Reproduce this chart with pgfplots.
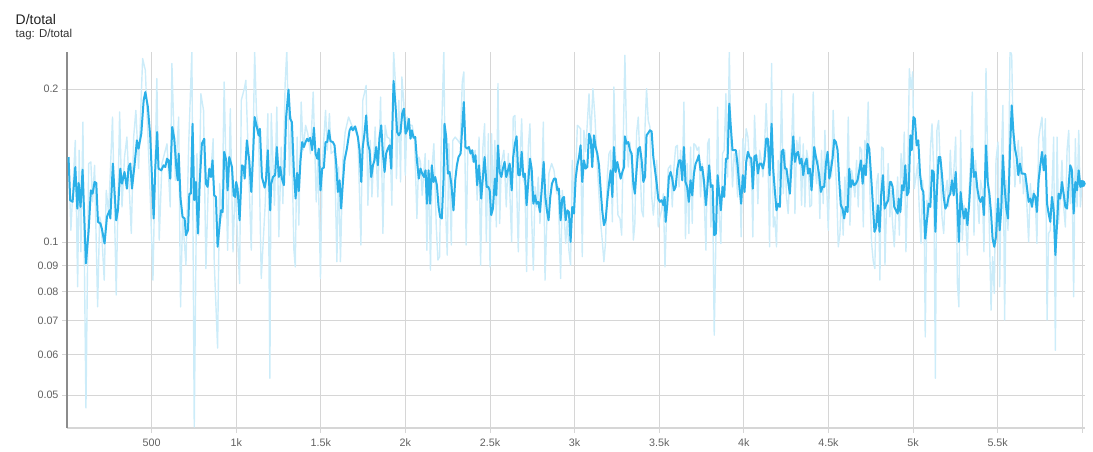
\documentclass[border=0pt]{standalone}
\usepackage{pgfplots}
\pgfplotsset{compat=1.18}
\usepackage{fontspec}
\setmainfont{Liberation Sans}
\definecolor{tbblue}{RGB}{43,176,232}
\definecolor{gridc}{RGB}{214,214,214}
\definecolor{ticklab}{RGB}{97,97,97}
\begin{document}
\begin{tikzpicture}
\useasboundingbox (0,0) rectangle (1093bp,452bp);
\node[anchor=base west, font=\fontsize{14}{16}\selectfont, text=black!87, inner sep=0] at (15.5bp,427bp) {D/total};
\node[anchor=base west, font=\fontsize{11.5}{13}\selectfont, text=black!80, inner sep=0] at (15.5bp,414bp) {tag: D/total};
\begin{axis}[
 at={(67bp,24bp)}, anchor=south west,
 scale only axis, width=1018bp, height=376bp,
 xmin=0, xmax=6016, ymode=log, ymin=0.0431, ymax=0.2365,
 axis x line*=bottom, axis y line*=left,
 x axis line style={draw=gridc, line width=1.5bp},
 y axis line style={draw=black!45, line width=1.5bp},
 xtick={500,1000,1500,2000,2500,3000,3500,4000,4500,5000,5500,6000},
 xticklabels={500,1k,1.5k,2k,2.5k,3k,3.5k,4k,4.5k,5k,5.5k,{}},
 ytick={0.05,0.06,0.07,0.08,0.09,0.1,0.2},
 yticklabels={0.05,0.06,0.07,0.08,0.09,0.1,0.2},
 minor tick num=0,
 grid=major, major grid style={draw=gridc, line width=1bp},
 tick style={draw=gridc, line width=1bp}, tick align=outside, major tick length=5bp,
 ticklabel style={font=\fontsize{10.8}{12}\selectfont, text=ticklab},
 xticklabel style={yshift=-2bp},
 line join=round,
]
\addplot[tbblue!24!white, line width=1.4bp, no marks] coordinates {
(9,0.1470)(23,0.1055)(49,0.1585)(63,0.0817)(72,0.1516)(82,0.0957)(94,0.1722)(112,0.0472)(128,0.1427)(141,0.1438)(151,0.1200)(163,0.1416)(181,0.0746)(193,0.1121)(202,0.1088)(220,0.0842)(232,0.1264)(246,0.1138)(269,0.1762)(291,0.0787)(311,0.1803)(325,0.1173)(340,0.1470)(354,0.1609)(380,0.1040)(394,0.1609)(407,0.1816)(423,0.1395)(447,0.2296)(463,0.2177)(492,0.1227)(508,0.0842)(531,0.2097)(545,0.1009)(561,0.1427)(591,0.1561)(610,0.1173)(620,0.2245)(640,0.1323)(660,0.1762)(671,0.0746)(683,0.1121)(703,0.0901)(719,0.1550)(738,0.2383)(752,0.0433)(768,0.1493)(778,0.1032)(791,0.1958)(807,0.1816)(821,0.0887)(837,0.1364)(851,0.1384)(864,0.1597)(870,0.0915)(890,0.0619)(902,0.1303)(916,0.1121)(929,0.2065)(949,0.0964)(965,0.1830)(981,0.0957)(994,0.1303)(1020,0.0829)(1030,0.1900)(1050,0.2018)(1057,0.2081)(1089,0.0964)(1109,0.2365)(1120,0.1789)(1132,0.1659)(1148,0.0848)(1172,0.1200)(1187,0.1789)
(1199,0.0540)(1207,0.1789)(1226,0.1182)(1240,0.1843)(1252,0.1024)(1266,0.1538)(1276,0.1190)(1289,0.2049)(1299,0.2383)(1315,0.1354)(1325,0.1762)(1341,0.0964)(1349,0.0894)(1360,0.1609)(1370,0.1080)(1384,0.1886)(1396,0.1516)(1410,0.1697)(1423,0.1634)(1439,0.1493)(1455,0.1973)(1473,0.1200)(1483,0.1470)(1498,0.0848)(1508,0.1405)(1528,0.1816)(1538,0.1516)(1551,0.1789)(1561,0.1493)(1581,0.1516)(1595,0.0915)(1605,0.1405)(1616,0.0915)(1630,0.1448)(1644,0.1646)(1664,0.1762)(1683,0.1697)(1699,0.1671)(1719,0.1609)(1737,0.0987)(1748,0.1900)(1768,0.2033)(1778,0.1182)(1792,0.1585)(1802,0.1227)(1821,0.1684)(1837,0.1227)(1853,0.1929)(1867,0.1040)(1880,0.1697)(1892,0.1609)(1908,0.1597)(1920,0.1182)(1930,0.2383)(1940,0.2081)(1947,0.1333)(1961,0.1900)(1971,0.1313)(1979,0.2113)(1991,0.1872)(1999,0.1354)(2010,0.1762)(2024,0.1697)(2040,0.1697)(2054,0.1585)(2068,0.1113)(2079,0.1470)(2089,0.1438)(2099,0.1236)(2117,0.1493)(2127,0.0964)(2137,0.1448)(2148,0.0881)(2158,0.1416)(2168,0.1561)(2182,0.1080)(2192,0.0922)(2202,0.0936)(2211,0.1527)(2227,0.2383)(2237,0.1173)(2247,0.0943)(2257,0.1561)(2271,0.0987)(2280,0.1585)(2294,0.1609)(2310,0.1585)(2324,0.1561)(2336,0.2065)(2345,0.2161)(2359,0.0987)(2369,0.1538)(2385,0.1516)(2399,0.1438)(2412,0.1516)(2424,0.1209)
(2435,0.1609)(2444,0.0901)(2458,0.1538)(2468,0.1709)(2478,0.1001)(2490,0.1634)(2500,0.0894)(2509,0.1634)(2519,0.1173)(2529,0.1585)(2537,0.1071)(2547,0.2049)(2557,0.1088)(2567,0.1427)(2582,0.1516)(2596,0.1173)(2608,0.1493)(2628,0.1001)(2637,0.1762)(2647,0.1775)(2667,0.0957)(2677,0.1448)(2687,0.1748)(2697,0.1323)(2706,0.1303)(2716,0.0875)(2726,0.1538)(2736,0.1709)(2746,0.1121)(2756,0.0881)(2766,0.1284)(2775,0.1173)(2785,0.1343)(2795,0.1088)(2805,0.1264)(2815,0.1722)(2825,0.0842)(2834,0.1055)(2848,0.1364)(2864,0.1427)(2878,0.1384)(2894,0.1245)(2903,0.1284)(2917,0.0848)(2927,0.1264)(2937,0.1146)(2947,0.0994)(2957,0.1104)(2966,0.0964)(2976,0.0901)(2986,0.1448)(2996,0.1173)(3006,0.1343)(3016,0.1697)(3026,0.1684)(3035,0.1671)(3045,0.0936)(3055,0.1659)(3065,0.1505)(3085,0.1958)(3095,0.1597)(3108,0.2003)(3120,0.1762)(3134,0.1405)(3154,0.1088)(3163,0.1009)(3173,0.0915)(3183,0.1001)(3193,0.1343)(3203,0.1493)(3213,0.1516)(3223,0.1096)(3232,0.2018)(3242,0.1470)(3256,0.1130)(3268,0.1113)(3278,0.1032)(3288,0.1634)(3297,0.2331)(3307,0.1609)(3317,0.1405)(3327,0.1573)(3337,0.1427)(3347,0.1009)(3356,0.1088)(3366,0.1634)(3376,0.1762)(3386,0.1448)(3396,0.1155)(3406,0.1121)(3416,0.1684)(3425,0.2003)(3435,0.1735)(3445,0.1684)(3455,0.1236)(3465,0.1130)(3475,0.1236)(3485,0.1448)(3494,0.1071)(3504,0.1121)(3514,0.1155)(3524,0.1245)(3534,0.0894)(3544,0.1155)(3553,0.1395)(3567,0.1416)(3577,0.1173)(3587,0.1405)(3597,0.1538)(3607,0.1550)(3617,0.1284)(3626,0.1516)(3636,0.1323)(3646,0.1886)
(3655,0.1016)(3665,0.1427)(3675,0.1040)(3685,0.1538)(3695,0.1088)(3705,0.1561)(3715,0.1550)(3724,0.1516)(3734,0.1538)(3744,0.1227)(3754,0.1427)(3764,0.1264)(3776,0.0964)(3786,0.1561)(3795,0.1597)(3805,0.1071)(3815,0.1284)(3825,0.0656)(3835,0.1024)(3845,0.1843)(3854,0.1138)(3864,0.0994)(3874,0.1493)(3884,0.1516)(3894,0.1958)(3904,0.1343)(3914,0.2383)(3923,0.1585)(3933,0.1284)(3943,0.1493)(3953,0.1427)(3963,0.1227)(3973,0.1516)(3984,0.1024)(3994,0.1597)(4004,0.1448)(4014,0.1671)(4024,0.1609)(4034,0.1416)(4044,0.1470)(4053,0.1024)(4063,0.1775)(4073,0.1470)(4083,0.1190)(4093,0.1516)(4103,0.1448)(4113,0.1343)(4122,0.1538)(4132,0.1872)(4142,0.1516)(4152,0.0979)(4164,0.2245)(4174,0.1071)(4183,0.1121)(4193,0.0979)(4203,0.1448)(4213,0.1323)(4223,0.1988)(4233,0.1245)(4243,0.1516)(4252,0.1227)(4262,0.1138)(4272,0.1395)(4282,0.1561)(4292,0.1958)(4302,0.1138)(4312,0.1585)(4321,0.1516)(4331,0.1609)(4341,0.1182)(4351,0.1561)(4361,0.1173)(4371,0.1516)(4380,0.1448)(4390,0.1173)(4400,0.1182)(4410,0.1973)(4420,0.1427)(4430,0.1303)(4440,0.1448)(4449,0.1113)(4459,0.1516)(4469,0.1190)(4479,0.1659)(4489,0.1303)(4499,0.1055)(4509,0.1448)(4518,0.1343)(4528,0.1816)(4538,0.1470)(4548,0.1284)(4558,0.0979)(4568,0.1040)(4577,0.1264)(4587,0.1032)(4597,0.1343)(4607,0.1173)(4617,0.1762)(4627,0.1080)(4637,0.1384)(4646,0.1323)(4656,0.1227)(4666,0.1448)(4676,0.1173)(4686,0.1538)(4696,0.1516)(4706,0.1071)(4715,0.1585)(4725,0.1516)(4735,0.1886)(4745,0.1245)(4755,0.0994)(4765,0.0915)(4774,0.0887)(4784,0.1303)(4794,0.1364)(4804,0.0842)(4814,0.1538)(4824,0.1527)(4834,0.0901)(4843,0.1173)(4853,0.1427)(4863,0.1121)
(4870,0.1264)(4879,0.1088)(4889,0.0979)(4899,0.1173)(4909,0.1343)(4919,0.1032)(4929,0.1493)(4939,0.1303)(4948,0.1646)(4958,0.0957)(4968,0.1303)(4978,0.2193)(4988,0.2003)(4998,0.2161)(5007,0.1274)(5017,0.1343)(5027,0.1427)(5037,0.1155)(5047,0.0994)(5057,0.1323)(5067,0.1009)(5072,0.0651)(5082,0.1209)(5092,0.1121)(5102,0.1516)(5112,0.1709)(5122,0.1395)(5132,0.0540)(5141,0.1659)(5151,0.1735)(5161,0.1405)(5171,0.1121)(5181,0.1040)(5191,0.1245)(5201,0.1323)(5210,0.1173)(5220,0.1516)(5230,0.1264)(5240,0.1364)(5252,0.1609)(5262,0.0829)(5271,0.0746)(5281,0.1659)(5291,0.1009)(5301,0.1182)(5311,0.1104)(5321,0.0943)(5331,0.1264)(5340,0.1448)(5350,0.1973)(5360,0.1032)(5370,0.1448)(5380,0.1227)(5390,0.1088)(5399,0.1323)(5409,0.1264)(5419,0.0957)(5431,0.2193)(5441,0.1448)(5451,0.1055)(5461,0.0735)(5470,0.0936)(5480,0.0793)(5490,0.1448)(5502,0.1573)(5512,0.0817)(5522,0.1470)(5531,0.1858)(5541,0.0703)(5551,0.1323)(5561,0.1055)(5573,0.2383)(5583,0.2331)(5593,0.1516)(5602,0.1284)(5612,0.1470)(5622,0.1585)(5632,0.1303)(5642,0.1538)(5652,0.1245)(5663,0.1364)(5673,0.1173)(5683,0.1001)(5693,0.1303)(5703,0.1173)(5713,0.1264)(5723,0.1190)(5732,0.0994)(5742,0.1597)(5752,0.1684)(5762,0.1762)(5772,0.1448)(5782,0.1748)(5792,0.0703)(5801,0.1040)(5811,0.1055)(5821,0.1264)(5831,0.1609)(5841,0.0613)(5851,0.1609)(5860,0.1088)(5870,0.1227)(5880,0.1448)(5890,0.1173)(5900,0.1071)(5910,0.1516)(5920,0.1659)(5929,0.1190)(5939,0.1405)(5949,0.0781)(5959,0.1597)(5969,0.1173)(5979,0.1659)(5989,0.1173)(5998,0.1303)
};
\addplot[tbblue, line width=2bp, no marks] coordinates {
(9,0.1470)(19,0.1209)(33,0.1200)(49,0.1405)(61,0.1164)(69,0.1307)(80,0.1173)(92,0.1388)(112,0.0908)(128,0.1055)(141,0.1264)(151,0.1245)(163,0.1313)(173,0.1307)(183,0.1096)(197,0.1088)(206,0.1063)(222,0.0994)(236,0.1121)(252,0.1155)(256,0.1113)(271,0.1427)(291,0.1104)(301,0.1155)(315,0.1395)(325,0.1303)(340,0.1374)(354,0.1274)(364,0.1405)(374,0.1427)(384,0.1274)(399,0.1416)(413,0.1585)(423,0.1527)(439,0.1634)(453,0.1900)(463,0.1973)(478,0.1843)(492,0.1609)(502,0.1343)(512,0.1113)(522,0.1405)(533,0.1646)(541,0.1395)(557,0.1384)(571,0.1416)(581,0.1405)(591,0.1459)(600,0.1448)(610,0.1333)(622,0.1684)(634,0.1597)(646,0.1405)(654,0.1323)(660,0.1493)(671,0.1218)(683,0.1121)(695,0.1113)(703,0.1032)(715,0.1055)(723,0.1245)(732,0.1245)(742,0.1709)(752,0.1209)(762,0.1313)(774,0.1040)(784,0.1303)(797,0.1561)(811,0.1597)(821,0.1303)(831,0.1284)(841,0.1395)(851,0.1343)(860,0.1448)(870,0.1236)(880,0.1227)(890,0.0979)(910,0.1155)(920,0.1146)(929,0.1505)(941,0.1448)(949,0.1264)(959,0.1470)(975,0.1405)(985,0.1236)(994,0.1227)(1000,0.1313)(1008,0.1274)(1020,0.1104)(1034,0.1416)(1044,0.1405)(1050,0.1333)(1063,0.1585)(1077,0.1448)(1089,0.1255)(1099,0.1470)(1109,0.1762)(1122,0.1684)(1132,0.1622)(1140,0.1671)(1152,0.1343)(1168,0.1280)(1176,0.1323)(1187,0.1516)
(1201,0.1155)(1207,0.1303)(1217,0.1343)(1230,0.1354)(1240,0.1538)(1252,0.1343)(1260,0.1405)(1270,0.1333)(1282,0.1294)(1295,0.1762)(1309,0.1994)(1319,0.1748)(1329,0.1722)(1341,0.1374)(1351,0.1218)(1360,0.1368)(1370,0.1260)(1380,0.1448)(1390,0.1573)(1400,0.1538)(1410,0.1573)(1419,0.1597)(1427,0.1580)(1437,0.1604)(1449,0.1516)(1459,0.1679)(1469,0.1493)(1479,0.1459)(1488,0.1527)(1498,0.1264)(1508,0.1395)(1518,0.1401)(1528,0.1573)(1538,0.1573)(1548,0.1659)(1557,0.1580)(1571,0.1573)(1581,0.1550)(1591,0.1427)(1601,0.1255)(1611,0.1323)(1620,0.1164)(1630,0.1303)(1640,0.1448)(1654,0.1527)(1670,0.1659)(1680,0.1684)(1689,0.1659)(1703,0.1689)(1709,0.1659)(1719,0.1609)(1729,0.1516)(1739,0.1313)(1748,0.1538)(1758,0.1634)(1768,0.1775)(1778,0.1561)(1788,0.1516)(1798,0.1343)(1808,0.1416)(1817,0.1448)(1827,0.1538)(1837,0.1416)(1847,0.1609)(1857,0.1697)(1867,0.1493)(1877,0.1374)(1886,0.1493)(1896,0.1527)(1906,0.1550)(1916,0.1395)(1930,0.2075)(1942,0.1843)(1951,0.1646)(1961,0.1622)(1971,0.1646)(1981,0.1789)(1991,0.1830)(2001,0.1634)(2010,0.1659)(2020,0.1748)(2030,0.1597)(2038,0.1659)(2048,0.1604)(2058,0.1609)(2068,0.1448)(2079,0.1333)(2089,0.1395)(2099,0.1364)(2109,0.1343)(2119,0.1384)(2127,0.1190)(2137,0.1384)(2146,0.1190)(2156,0.1416)(2166,0.1313)(2176,0.1343)(2186,0.1294)(2196,0.1173)(2205,0.1121)(2215,0.1113)(2225,0.1323)(2231,0.1709)(2241,0.1609)(2251,0.1364)(2261,0.1374)(2271,0.1303)(2284,0.1155)(2294,0.1323)(2304,0.1416)(2314,0.1470)(2326,0.1493)(2336,0.1684)(2345,0.1886)(2355,0.1538)(2365,0.1527)(2375,0.1538)(2385,0.1493)(2395,0.1516)(2404,0.1438)(2414,0.1482)(2424,0.1294)
(2435,0.1416)(2448,0.1218)(2458,0.1343)(2468,0.1470)(2480,0.1284)(2490,0.1284)(2498,0.1264)(2507,0.1130)(2517,0.1164)(2529,0.1333)(2537,0.1236)(2547,0.1550)(2557,0.1374)(2567,0.1343)(2576,0.1395)(2586,0.1438)(2596,0.1343)(2606,0.1384)(2616,0.1427)(2628,0.1264)(2637,0.1470)(2647,0.1561)(2657,0.1614)(2667,0.1354)(2677,0.1354)(2687,0.1505)(2697,0.1343)(2706,0.1364)(2716,0.1182)(2726,0.1313)(2736,0.1459)(2746,0.1395)(2756,0.1190)(2766,0.1236)(2775,0.1190)(2785,0.1200)(2795,0.1146)(2805,0.1264)(2817,0.1438)(2827,0.1227)(2836,0.1155)(2846,0.1104)(2856,0.1227)(2866,0.1303)(2878,0.1333)(2888,0.1333)(2898,0.1264)(2907,0.1274)(2917,0.1104)(2927,0.1218)(2937,0.1227)(2947,0.1104)(2957,0.1155)(2966,0.1146)(2976,0.1001)(2986,0.1173)(2996,0.1138)(3006,0.1333)(3016,0.1416)(3026,0.1470)(3035,0.1550)(3045,0.1313)(3055,0.1448)(3065,0.1395)(3075,0.1405)(3085,0.1634)(3095,0.1597)(3104,0.1405)(3114,0.1622)(3124,0.1538)(3134,0.1493)(3144,0.1416)(3154,0.1264)(3163,0.1155)(3173,0.1080)(3183,0.1104)(3193,0.1209)(3203,0.1303)(3213,0.1384)(3223,0.1227)(3232,0.1538)(3242,0.1374)(3252,0.1438)(3262,0.1384)(3272,0.1333)(3282,0.1374)(3292,0.1405)(3297,0.1614)(3307,0.1561)(3317,0.1573)(3327,0.1516)(3337,0.1493)(3347,0.1303)(3356,0.1245)(3366,0.1384)(3376,0.1527)(3386,0.1538)(3396,0.1448)(3406,0.1313)(3416,0.1343)(3425,0.1622)(3435,0.1639)(3445,0.1659)(3455,0.1651)(3465,0.1470)(3475,0.1384)(3485,0.1303)(3494,0.1218)(3504,0.1200)(3514,0.1209)(3524,0.1182)(3532,0.1227)(3538,0.1096)(3548,0.1190)(3557,0.1343)(3567,0.1374)(3577,0.1333)(3587,0.1264)(3597,0.1284)(3607,0.1395)(3617,0.1448)(3626,0.1448)(3636,0.1323)
(3646,0.1538)(3655,0.1313)(3665,0.1284)(3675,0.1200)(3685,0.1323)(3695,0.1236)(3705,0.1364)(3715,0.1427)(3724,0.1448)(3734,0.1482)(3744,0.1384)(3754,0.1405)(3764,0.1323)(3776,0.1182)(3786,0.1303)(3795,0.1416)(3805,0.1284)(3815,0.1294)(3825,0.1032)(3835,0.1040)(3845,0.1354)(3854,0.1255)(3864,0.1155)(3874,0.1284)(3884,0.1227)(3894,0.1459)(3904,0.1459)(3914,0.1872)(3923,0.1684)(3933,0.1516)(3943,0.1516)(3953,0.1516)(3963,0.1416)(3973,0.1294)(3984,0.1190)(3994,0.1354)(4004,0.1255)(4014,0.1438)(4024,0.1505)(4034,0.1470)(4044,0.1459)(4053,0.1274)(4063,0.1475)(4073,0.1482)(4083,0.1364)(4093,0.1427)(4103,0.1427)(4113,0.1395)(4122,0.1448)(4132,0.1597)(4142,0.1597)(4152,0.1354)(4164,0.1709)(4174,0.1384)(4183,0.1264)(4193,0.1155)(4203,0.1190)(4213,0.1173)(4223,0.1505)(4233,0.1520)(4243,0.1395)(4252,0.1395)(4262,0.1313)(4272,0.1245)(4282,0.1427)(4292,0.1614)(4302,0.1438)(4312,0.1493)(4321,0.1505)(4331,0.1427)(4341,0.1459)(4351,0.1354)(4361,0.1427)(4371,0.1459)(4380,0.1364)(4390,0.1395)(4400,0.1264)(4410,0.1416)(4416,0.1538)(4426,0.1470)(4436,0.1416)(4445,0.1354)(4455,0.1255)(4465,0.1284)(4475,0.1284)(4485,0.1427)(4495,0.1505)(4505,0.1333)(4514,0.1384)(4524,0.1459)(4534,0.1590)(4544,0.1573)(4554,0.1516)(4564,0.1313)(4573,0.1182)(4583,0.1164)(4593,0.1113)(4603,0.1173)(4613,0.1146)(4623,0.1395)(4633,0.1284)(4642,0.1323)(4652,0.1294)(4662,0.1303)(4672,0.1323)(4682,0.1384)(4692,0.1448)(4702,0.1303)(4711,0.1416)(4721,0.1354)(4731,0.1561)(4741,0.1527)(4751,0.1364)(4761,0.1209)(4772,0.1048)(4782,0.1071)(4792,0.1182)(4802,0.1048)(4812,0.1245)(4822,0.1354)(4832,0.1164)(4843,0.1190)(4853,0.1209)(4863,0.1313)
(4870,0.1313)(4879,0.1284)(4889,0.1173)(4899,0.1155)(4909,0.1138)(4915,0.1218)(4925,0.1146)(4935,0.1294)(4944,0.1264)(4954,0.1416)(4964,0.1236)(4974,0.1255)(4984,0.1622)(4992,0.1516)(5002,0.1762)(5011,0.1748)(5021,0.1550)(5031,0.1585)(5041,0.1364)(5051,0.1274)(5061,0.1255)(5072,0.1016)(5082,0.1104)(5092,0.1190)(5102,0.1173)(5112,0.1384)(5122,0.1374)(5132,0.1048)(5141,0.1264)(5151,0.1470)(5161,0.1470)(5171,0.1354)(5181,0.1227)(5191,0.1164)(5201,0.1182)(5210,0.1227)(5220,0.1245)(5230,0.1323)(5240,0.1236)(5252,0.1374)(5262,0.1173)(5271,0.1001)(5281,0.1255)(5291,0.1164)(5301,0.1113)(5311,0.1164)(5321,0.1080)(5331,0.1182)(5340,0.1323)(5350,0.1527)(5360,0.1343)(5370,0.1374)(5380,0.1274)(5390,0.1218)(5399,0.1200)(5409,0.1227)(5419,0.1130)(5431,0.1550)(5441,0.1313)(5451,0.1245)(5461,0.1138)(5470,0.1016)(5480,0.0979)(5490,0.1024)(5502,0.1218)(5512,0.1055)(5522,0.1173)(5531,0.1482)(5541,0.1284)(5551,0.1164)(5561,0.1113)(5573,0.1516)(5583,0.1858)(5593,0.1646)(5602,0.1527)(5612,0.1470)(5622,0.1354)(5632,0.1427)(5642,0.1364)(5652,0.1364)(5663,0.1360)(5673,0.1284)(5683,0.1200)(5693,0.1218)(5703,0.1173)(5713,0.1245)(5723,0.1227)(5732,0.1146)(5742,0.1323)(5752,0.1416)(5762,0.1505)(5772,0.1384)(5782,0.1482)(5792,0.1190)(5801,0.1138)(5811,0.1096)(5821,0.1227)(5831,0.1155)(5841,0.0943)(5851,0.1088)(5860,0.1245)(5870,0.1218)(5880,0.1313)(5890,0.1245)(5900,0.1173)(5910,0.1164)(5920,0.1303)(5929,0.1416)(5939,0.1384)(5949,0.1138)(5959,0.1313)(5969,0.1264)(5979,0.1384)(5989,0.1284)(5998,0.1303)
};
\addplot[only marks, mark=*, mark size=3.5bp, mark options={fill=tbblue, draw=tbblue}] coordinates {(5998,0.1303)};
\end{axis}
\end{tikzpicture}
\end{document}
